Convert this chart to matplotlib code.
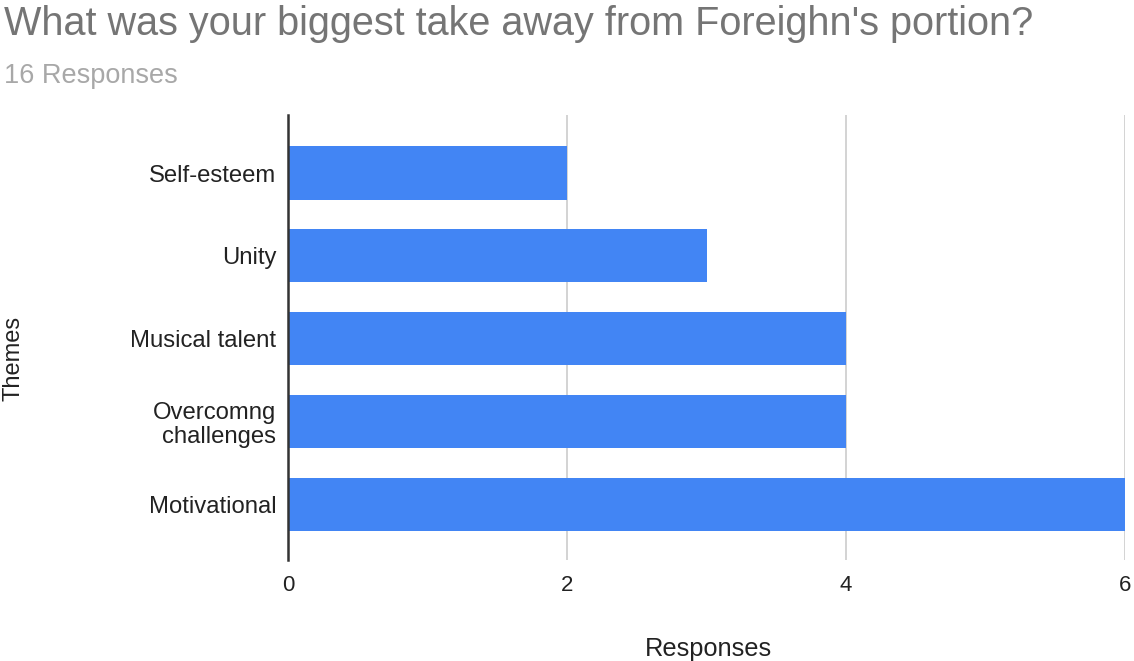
import matplotlib
matplotlib.use("Agg")
import matplotlib.pyplot as plt

plt.rcParams['font.family'] = ['Liberation Sans', 'DejaVu Sans']

themes = ["Self-esteem", "Unity", "Musical talent", "Overcomng\nchallenges", "Motivational"]
responses = [2, 3, 4, 4, 6]
x_ticks = [0, 2, 4, 6]

title = "What was your biggest take away from Foreighn's portion?"
subtitle = "16 Responses"

W, H = 1134, 661
fig = plt.figure(figsize=(W / 100, H / 100), dpi=100)
ax = fig.add_axes([288 / W, 1 - 560 / H, (1125 - 288) / W, (560 - 115) / H])

pos = list(range(len(themes)))
ax.barh(pos, responses, height=0.64, color="#4285f4", zorder=3)

ax.set_xlim(0, 6)
ax.set_ylim(4.67, -0.7)
ax.set_yticks(pos)
ax.set_yticklabels(themes, fontsize=17.2, color="#222222", linespacing=1.1)
ax.set_xticks(x_ticks)
ax.set_xticklabels([str(t) for t in x_ticks], fontsize=16, color="#222222")
ax.tick_params(axis="both", length=0)
ax.tick_params(axis="x", pad=11)
ax.tick_params(axis="y", pad=8.5)

ax.grid(axis="x", color="#cccccc", linewidth=1.2, zorder=0)
for side in ["top", "right", "bottom"]:
    ax.spines[side].set_visible(False)
ax.spines["left"].set_color("#333333")
ax.spines["left"].set_linewidth(1.8)
ax.spines["left"].set_zorder(4)

fig.text(708 / W, 1 - 656 / H, "Responses", fontsize=18.3, color="#222222",
         ha="center", va="baseline")
fig.text(14 / W, 1 - 358 / H, "Themes", rotation=90, fontsize=17,
         color="#222222", ha="center", va="center")

fig.text(4 / W, 1 - 35 / H, title, fontsize=28.5, color="#757575",
         ha="left", va="baseline")
fig.text(4 / W, 1 - 83 / H, subtitle, fontsize=19.5, color="#a8a8a8",
         ha="left", va="baseline")

fig.savefig("out.png", dpi=100, facecolor="white")
